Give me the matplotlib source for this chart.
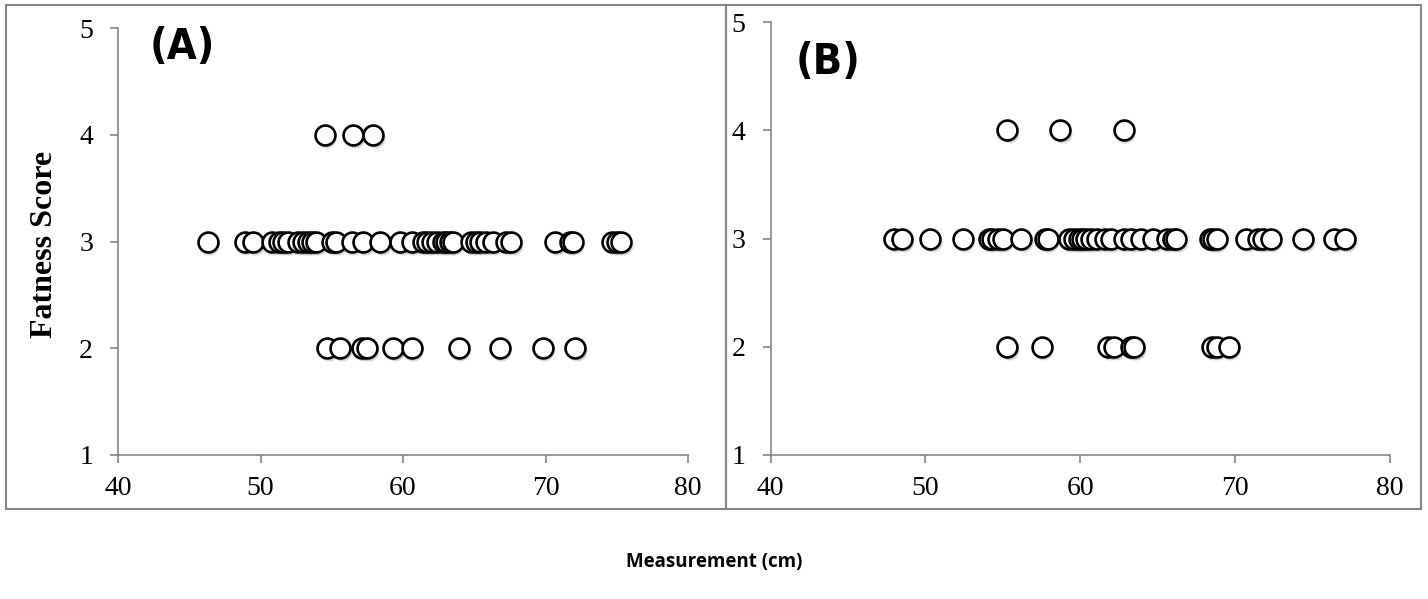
import matplotlib
matplotlib.use('Agg')
import matplotlib.pyplot as plt
from matplotlib.patches import Rectangle
from matplotlib.transforms import offset_copy

a_score4 = [54.5, 56.5, 57.9]
a_score3 = [46.3, 48.9, 49.5, 50.8, 51.3, 51.6, 51.9, 52.6, 53.0, 53.3, 53.6,
            53.9, 55.0, 55.3, 56.4, 57.2, 58.4, 59.8, 60.6, 61.4, 61.7, 62.0,
            62.4, 62.8, 63.0, 63.3, 63.5, 64.8, 65.1, 65.4, 65.8, 66.3, 67.2,
            67.6, 70.7, 71.7, 71.9, 74.7, 75.0, 75.3]
a_score2 = [54.7, 55.6, 57.1, 57.5, 59.3, 60.6, 63.9, 66.8, 69.8, 72.1]

b_score4 = [55.3, 58.7, 62.8]
b_score3 = [48.0, 48.5, 50.3, 52.4, 54.1, 54.3, 54.7, 55.0, 56.2, 57.7, 57.9,
            59.3, 59.6, 59.9, 60.1, 60.4, 60.7, 61.1, 61.6, 62.0, 62.8, 63.3,
            63.9, 64.7, 65.6, 66.0, 66.2, 68.4, 68.6, 68.8, 70.7, 71.5, 71.8,
            72.3, 74.4, 76.4, 77.1]
b_score2 = [55.3, 57.5, 61.8, 62.2, 63.3, 63.5, 68.5, 68.8, 69.6]

x_ticks = [40, 50, 60, 70, 80]
y_ticks = [1, 2, 3, 4, 5]
panel_labels = ['(A)', '(B)']

W, H = 1428, 599
GRAY = '#868686'


def draw_panel(ax, groups, label, label_xy):
    for xs, score in groups:
        ys = [score] * len(xs)
        shadow = offset_copy(ax.transData, fig=ax.figure, x=1.5, y=-3, units='dots')
        ax.scatter(xs, ys, s=205, color='0.55', alpha=0.35, linewidths=0,
                   transform=shadow, zorder=2, clip_on=False)
        ax.scatter(xs, ys, s=205, facecolor='white', edgecolor='black',
                   linewidths=1.9, zorder=3, clip_on=False)
    ax.set_xlim(40, 80)
    ax.set_ylim(1, 5)
    ax.set_xticks(x_ticks)
    ax.set_yticks(y_ticks)
    for side in ['top', 'right']:
        ax.spines[side].set_visible(False)
    for side in ['left', 'bottom']:
        ax.spines[side].set_color(GRAY)
        ax.spines[side].set_linewidth(1.2)
    ax.tick_params(direction='out', length=6, width=1.2, color=GRAY,
                   labelsize=20)
    ax.tick_params(axis='x', pad=9)
    ax.tick_params(axis='y', pad=12)
    for t in ax.get_xticklabels() + ax.get_yticklabels():
        t.set_fontfamily('Liberation Serif')
    ax.set_facecolor('none')
    ax.text(label_xy[0], label_xy[1], label, transform=ax.figure.transFigure,
            fontsize=31, fontweight='bold', fontstretch='condensed',
            va='center', ha='left',
            family=['DejaVu Sans Condensed', 'DejaVu Sans'])


fig = plt.figure(figsize=(W / 100, H / 100), dpi=100)

# chart-area frames
fig.patches.append(Rectangle((6 / W, 1 - 509 / H), 720 / W, 504 / H,
                             transform=fig.transFigure, fill=False,
                             edgecolor=GRAY, linewidth=1.5))
fig.patches.append(Rectangle((726 / W, 1 - 509 / H), 695 / W, 504 / H,
                             transform=fig.transFigure, fill=False,
                             edgecolor=GRAY, linewidth=1.5))

ax_a = fig.add_axes([118 / W, 1 - 455 / H, 570 / W, 427 / H])
ax_b = fig.add_axes([770.5 / W, 1 - 455 / H, 619.5 / W, 433 / H])

draw_panel(ax_a, [(a_score4, 4), (a_score3, 3), (a_score2, 2)],
           panel_labels[0], (150 / W, 1 - 47 / H))
draw_panel(ax_b, [(b_score4, 4), (b_score3, 3), (b_score2, 2)],
           panel_labels[1], (796 / W, 1 - 62 / H))

fig.text(45 / W, 1 - 244 / H, 'Fatness Score', rotation=90, ha='center',
         va='center', fontsize=23, fontweight='bold', family='Liberation Serif')
fig.text(714 / W, 1 - 562 / H, 'Measurement (cm)', ha='center', va='center',
         fontsize=13.5, fontweight='bold', family=['Open Sans', 'DejaVu Sans'])

fig.savefig('out.png', dpi=100)
